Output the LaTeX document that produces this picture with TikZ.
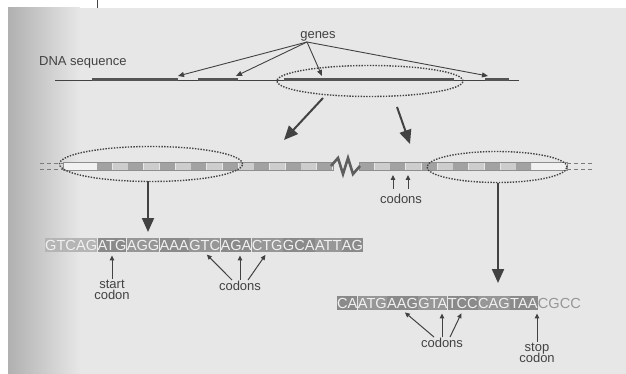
\documentclass[tikz,border=0pt]{standalone}
\usepackage{fontspec}
\setmainfont{Liberation Sans}
\newfontfamily\seqfont{Liberation Sans}
\usetikzlibrary{arrows.meta,positioning,shapes.geometric}
\definecolor{page}{HTML}{E7E7E7}
\definecolor{shadow}{HTML}{B0B0B0}
\definecolor{ink}{HTML}{424242}
\definecolor{cdark}{HTML}{A2A2A2}
\definecolor{clight}{HTML}{CDCDCD}
\definecolor{cwhite}{HTML}{F1F1F1}
\definecolor{sdark}{HTML}{8A8A8A}
\definecolor{smid}{HTML}{979797}
\definecolor{spale}{HTML}{B5B5B5}
\definecolor{seqtext}{HTML}{F0F0F0}
\tikzset{
  lbl/.style={font=\fontsize{13}{13.5}\selectfont, text=ink, inner sep=1pt, align=center},
  seqbox/.style={font=\seqfont\fontsize{14.6}{15}\selectfont, text=seqtext, inner xsep=0pt, inner ysep=1.5pt,
                 text height=11pt, text depth=0.5pt},
  thinline/.style={ink, line width=0.8pt},
  geneline/.style={ink!90, line width=3pt},
  ptr/.style={ink, line width=0.9pt, -{Triangle[length=6pt,width=5pt]}},
  smallptr/.style={ink, line width=1pt, -{Triangle[length=5pt,width=4.5pt]}},
  bigarrow/.style={ink, line width=2pt, -{Triangle[length=14pt,width=12pt]}},
  ovaldot/.style={ellipse, draw=ink, line width=1.4pt, dash pattern=on 1.4pt off 1.4pt, inner sep=0pt},
  dashend/.style={ink!70, line width=0.8pt, dash pattern=on 4pt off 3pt},
}
\begin{document}
\begin{tikzpicture}[x=1pt,y=-1pt]
\useasboundingbox (0,0) rectangle (626,374);
% paper
\fill[white] (0,0) rectangle (626,374);
\fill[page] (8,8) rectangle (626,374);
\shade[left color=shadow, right color=page] (8,8) rectangle (80,374);
\draw[ink, line width=0.8pt] (97,0) -- (97,8);

% ---------- genomic DNA with genes ----------
\node[lbl] (genes) at (318,36) {genes};
\node[lbl, anchor=west] (dnalab) at (38,62) {DNA sequence};
\draw[thinline] (55,80) -- (519,80);
\draw[geneline] (92,80) -- (178,80);
\draw[geneline] (198,80) -- (238,80);
\draw[geneline] (284,80) -- (454,80);
\draw[geneline] (485,80) -- (509,80);
\node[ovaldot, minimum width=186pt, minimum height=31pt] (e0) at (370,81) {};

\coordinate (ga) at (178,76);
\coordinate (gb) at (236,76);
\coordinate (gc) at (322,76);
\coordinate (gd) at (488,76);
\coordinate (gsrc) at (307,42);
\draw[ptr] (gsrc) -- (ga);
\draw[ptr] (gsrc) -- (gb);
\draw[ptr] (gsrc) -- (gc);
\draw[ptr] (gsrc) -- (gd);

% ---------- zoom arrows ----------
\coordinate (z1s) at (323,98);
\coordinate (z1e) at (284,140);
\coordinate (z2s) at (397,107);
\coordinate (z2e) at (410,144);
\draw[bigarrow] (z1s) -- (z1e);
\draw[bigarrow] (z2s) -- (z2e);

% ---------- gene with codons ----------
\draw[dashend] (40,163) -- (63,163);
\draw[dashend] (40,169) -- (63,169);
\draw[dashend] (567,163) -- (592,163);
\draw[dashend] (567,169) -- (592,169);
\fill[cwhite] (63,162) rectangle (97,170);
\foreach \i in {0,...,14}{
  \ifodd\i \def\cc{clight}\else\def\cc{cdark}\fi
  \fill[\cc] ({97+15.73*\i},162) rectangle ({97+15.73*(\i+1)-0.8},170);
}
\foreach \i in {0,...,10}{
  \ifodd\i \def\cc{clight}\else\def\cc{cdark}\fi
  \fill[\cc] ({359+15.73*\i},162) rectangle ({359+15.73*(\i+1)-0.8},170);
}
\fill[cwhite] (532,162) rectangle (567,170);
\draw[ink!60, line width=0.5pt] (63,162) rectangle (333,170);
\draw[ink!60, line width=0.5pt] (359,162) rectangle (567,170);
\draw[ink!85, line width=2.6pt, line join=miter, miter limit=10]
  (331,166) -- (338,158) -- (343,174) -- (348,158) -- (353,174) -- (360,166);
\node[ovaldot, minimum width=183pt, minimum height=35pt] (e1) at (151,164) {};
\node[ovaldot, minimum width=140pt, minimum height=31pt] (e2) at (497,167) {};

\node[lbl] (cmid) at (401,199) {codons};
\coordinate (cm1s) at (393,189);
\coordinate (cm1e) at (393,175);
\coordinate (cm2s) at (408,189);
\coordinate (cm2e) at (408,175);
\draw[smallptr] (cm1s) -- (cm1e);
\draw[smallptr] (cm2s) -- (cm2e);

% ---------- down arrows to the sequences ----------
\coordinate (d1s) at (148,181);
\coordinate (d1e) at (148,232);
\coordinate (d2s) at (498,183);
\coordinate (d2e) at (498,283);
\draw[bigarrow] (d1s) -- (d1e);
\draw[bigarrow] (d2s) -- (d2e);

% ---------- start of the coding sequence ----------
\node[seqbox, fill=spale, anchor=west] (s1a) at (45,245) {GTCAG};
\node[seqbox, fill=sdark, right=0pt of s1a] (s1b) {ATG};
\node[seqbox, fill=smid,  right=0pt of s1b] (s1c) {AGG};
\node[seqbox, fill=sdark, right=0pt of s1c] (s1d) {AAA};
\node[seqbox, fill=smid,  right=0pt of s1d] (s1e) {GTC};
\node[seqbox, fill=sdark, right=0pt of s1e] (s1f) {AGA};
\node[seqbox, fill=smid,  right=0pt of s1f] (s1g) {CTG};
\node[seqbox, fill=sdark, right=0pt of s1g] (s1h) {GCA};
\node[seqbox, fill=smid,  right=0pt of s1h] (s1i) {ATT};
\node[seqbox, fill=sdark, right=0pt of s1i] (s1j) {AG};

\node[lbl] (start) at (112,290) {start\\[-2pt]codon};
\draw[smallptr, shorten >=3pt] (start.north) -- (start.north |- s1b.south);
\node[lbl] (cod1) at (240,286) {codons};
\draw[smallptr, shorten >=3pt] ([xshift=-8pt]cod1.north) -- (s1e.south);
\draw[smallptr, shorten >=3pt] (cod1.north) -- (cod1.north |- s1f.south);
\draw[smallptr, shorten >=3pt] ([xshift=8pt]cod1.north) -- (s1g.south);

% ---------- end of the coding sequence ----------
\node[seqbox, fill=sdark, anchor=west] (s2a) at (337,303) {CA};
\node[seqbox, fill=smid,  right=0pt of s2a] (s2b) {ATG};
\node[seqbox, fill=sdark, right=0pt of s2b] (s2c) {AAG};
\node[seqbox, fill=smid,  right=0pt of s2c] (s2d) {GTA};
\node[seqbox, fill=sdark, right=0pt of s2d] (s2e) {TCC};
\node[seqbox, fill=smid,  right=0pt of s2e] (s2f) {CAG};
\node[seqbox, fill=sdark, right=0pt of s2f] (s2g) {TAA};
\node[seqbox, text=ink!55, right=0pt of s2g] (s2h) {CGCC};

\node[lbl] (cod2) at (442,343) {codons};
\draw[smallptr, shorten >=3pt] ([xshift=-8pt]cod2.north) -- (s2c.south);
\draw[smallptr, shorten >=3pt] (cod2.north) -- (cod2.north |- s2d.south);
\draw[smallptr, shorten >=3pt] ([xshift=8pt]cod2.north) -- (s2e.south);
\node[lbl] (stop) at (537,353) {stop\\[-2pt]codon};
\draw[smallptr, shorten >=3pt] (stop.north) -- (stop.north |- s2g.south);
\end{tikzpicture}
\end{document}
